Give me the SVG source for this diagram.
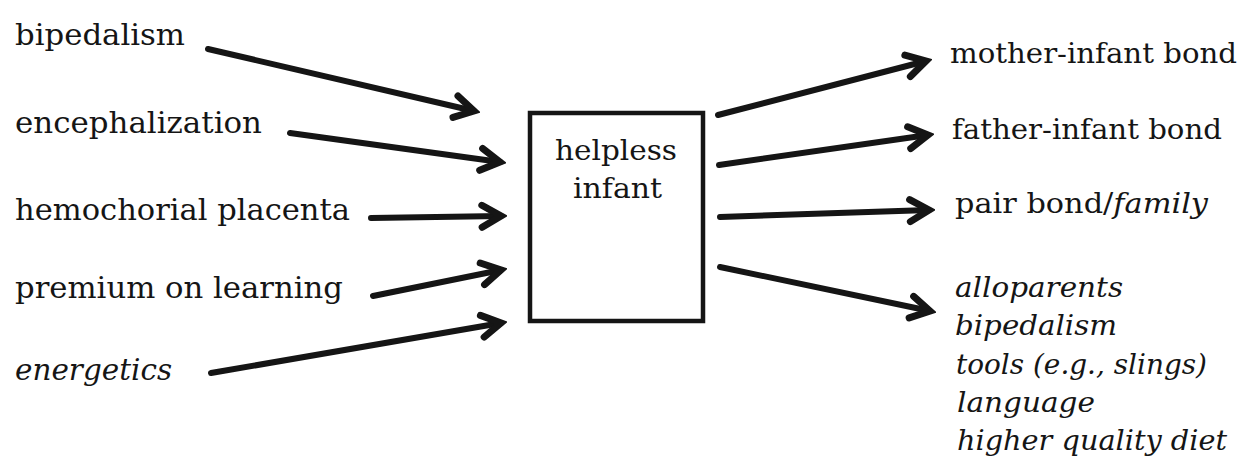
<svg xmlns="http://www.w3.org/2000/svg" width="1250" height="467" viewBox="0 0 1250 467">
  <style>
    .lbl { font-family: "DejaVu Serif", "Liberation Serif", serif; fill: #151515; }
    .big { font-size: 30px; }
    .sm { font-size: 27px; }
    .mid { font-size: 28px; }
    .it { font-style: italic; }
    .conn line { stroke: #151515; stroke-width: 6; stroke-linecap: round; marker-end: url(#head); }
    .box { fill: #ffffff; stroke: #151515; stroke-width: 4.5; }
  </style>
  <defs>
    <!-- thick open chevron used on every arrow -->
    <marker id="head" markerUnits="userSpaceOnUse" viewBox="-26 -15 32 30" markerWidth="32" markerHeight="30" refX="0" refY="0" orient="auto">
      <path d="M-19,-11 L0,0 L-19,11" fill="none" stroke="#151515" stroke-width="7" stroke-linejoin="miter" stroke-linecap="round"/>
    </marker>
  </defs>
  <rect width="1250" height="467" fill="#ffffff"/>

  <!-- causes -->
  <g id="cause-bipedalism"><text class="lbl big" x="15" y="45" textLength="170" lengthAdjust="spacingAndGlyphs">bipedalism</text></g>
  <g id="cause-encephalization"><text class="lbl big" x="15" y="133" textLength="247" lengthAdjust="spacingAndGlyphs">encephalization</text></g>
  <g id="cause-placenta"><text class="lbl big" x="15" y="220" textLength="335" lengthAdjust="spacingAndGlyphs">hemochorial placenta</text></g>
  <g id="cause-learning"><text class="lbl big" x="15" y="298" textLength="328" lengthAdjust="spacingAndGlyphs">premium on learning</text></g>
  <g id="cause-energetics"><text class="lbl big it" x="15" y="380" textLength="157" lengthAdjust="spacingAndGlyphs">energetics</text></g>

  <!-- central node -->
  <g id="helpless-infant">
    <rect class="box" x="530" y="113" width="173" height="208"/>
    <text class="lbl mid" x="555" y="160" textLength="122" lengthAdjust="spacingAndGlyphs">helpless</text>
    <text class="lbl mid" x="573" y="198" textLength="89" lengthAdjust="spacingAndGlyphs">infant</text>
  </g>

  <!-- consequences -->
  <g id="out-mother"><text class="lbl sm" x="950" y="63" textLength="287" lengthAdjust="spacingAndGlyphs">mother-infant bond</text></g>
  <g id="out-father"><text class="lbl sm" x="952" y="139" textLength="270" lengthAdjust="spacingAndGlyphs">father-infant bond</text></g>
  <g id="out-pair"><text class="lbl sm" x="955" y="213" textLength="253" lengthAdjust="spacingAndGlyphs">pair bond/<tspan class="it">family</tspan></text></g>
  <g id="out-list" class="lbl sm it">
    <text x="955" y="297" textLength="168" lengthAdjust="spacingAndGlyphs">alloparents</text>
    <text x="955" y="335" textLength="162" lengthAdjust="spacingAndGlyphs">bipedalism</text>
    <text x="956" y="374" textLength="251" lengthAdjust="spacingAndGlyphs">tools (e.g., slings)</text>
    <text x="957" y="412" textLength="138" lengthAdjust="spacingAndGlyphs">language</text>
    <text x="957" y="450" textLength="270" lengthAdjust="spacingAndGlyphs">higher quality diet</text>
  </g>

  <!-- connectors -->
  <g id="connectors" class="conn">
    <line x1="208" y1="49" x2="474" y2="111"/>
    <line x1="290" y1="133" x2="500" y2="162"/>
    <line x1="371" y1="218" x2="501" y2="216"/>
    <line x1="373" y1="296" x2="501" y2="270"/>
    <line x1="211" y1="373" x2="501" y2="323"/>
    <line x1="718" y1="115" x2="926" y2="61"/>
    <line x1="719" y1="165" x2="928" y2="135"/>
    <line x1="720" y1="217" x2="929" y2="210"/>
    <line x1="720" y1="267" x2="930" y2="311"/>
  </g>
</svg>
